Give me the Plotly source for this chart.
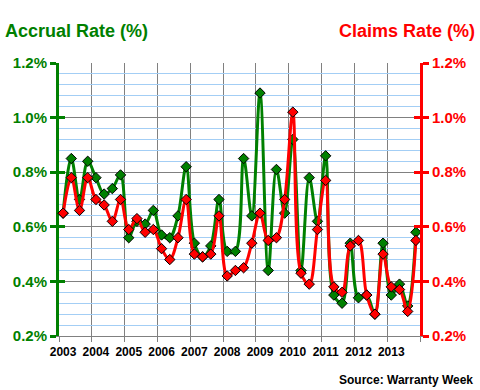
import plotly.graph_objects as go

years = ["2003", "2004", "2005", "2006", "2007", "2008", "2009", "2010", "2011", "2012", "2013"]
quarter_index = list(range(44))

accrual_rate = [0.65, 0.85, 0.70, 0.84,
                0.78, 0.72, 0.74, 0.79,
                0.56, 0.62, 0.61, 0.66,
                0.57, 0.56, 0.64, 0.82,
                0.54, 0.49, 0.53, 0.70,
                0.51, 0.51, 0.85, 0.64,
                1.09, 0.44, 0.81, 0.65,
                0.92, 0.44, 0.78, 0.62,
                0.86, 0.35, 0.32, 0.54,
                0.34, 0.35, 0.28, 0.54,
                0.35, 0.39, 0.31, 0.58]

claims_rate = [0.65, 0.78, 0.66, 0.78,
               0.70, 0.68, 0.62, 0.70,
               0.59, 0.63, 0.58, 0.59,
               0.52, 0.48, 0.56, 0.70,
               0.50, 0.49, 0.50, 0.64,
               0.42, 0.44, 0.45, 0.54,
               0.65, 0.55, 0.56, 0.70,
               1.02, 0.43, 0.39, 0.59,
               0.77, 0.38, 0.36, 0.53,
               0.55, 0.35, 0.28, 0.50,
               0.38, 0.37, 0.29, 0.55]

year_tickvals = [i * 4 for i in range(len(years))]

GREEN = "#008000"
RED = "#FF0000"
FONT = "Liberation Sans"

fig = go.Figure()
fig.add_trace(go.Scatter(
    x=quarter_index, y=claims_rate, yaxis="y2", mode="lines+markers",
    line=dict(color=RED, width=3, shape="spline", smoothing=1.0),
    marker=dict(symbol="diamond", size=8, color=RED, line=dict(color="black", width=1)),
    showlegend=False, cliponaxis=False))
fig.add_trace(go.Scatter(
    x=quarter_index, y=accrual_rate, mode="lines+markers",
    line=dict(color=GREEN, width=3, shape="spline", smoothing=1.0),
    marker=dict(symbol="diamond", size=8, color=GREEN, line=dict(color="black", width=1)),
    showlegend=False, cliponaxis=False))

fig.update_layout(
    width=480, height=390,
    margin=dict(l=59, r=60, t=63, b=54, autoexpand=False),
    paper_bgcolor="white", plot_bgcolor="white",
    font=dict(family=FONT),
    xaxis=dict(
        range=[-0.5, 43.5], tickmode="array", tickvals=year_tickvals, ticktext=years,
        ticks="", showgrid=False, zeroline=False, automargin=False,
        showline=True, linecolor="#808080", linewidth=1,
        ticklabelstandoff=5,
        tickfont=dict(family=FONT, size=12, color="black", weight="bold"),
        minor=dict(tick0=-0.5, dtick=4, showgrid=True, gridcolor="#808080", gridwidth=1,
                   ticks="outside", ticklen=5, tickcolor="#808080", tickwidth=1),
    ),
    yaxis=dict(
        range=[0.2, 1.2], tickmode="linear", tick0=0.2, dtick=0.2,
        tickformat=".1f", ticksuffix="%", automargin=False,
        showgrid=True, gridcolor="#808080", gridwidth=1, zeroline=False,
        showline=True, linecolor=GREEN, linewidth=3,
        ticks="outside", ticklen=6, tickwidth=3, tickcolor=GREEN,
        tickfont=dict(family=FONT, size=15, color=GREEN, weight="bold"),
        minor=dict(tick0=0.2, dtick=0.04, showgrid=True, gridcolor="#A3CEF5", gridwidth=1),
        layer="below traces",
    ),
    yaxis2=dict(
        range=[0.2, 1.2], tickmode="linear", tick0=0.2, dtick=0.2,
        tickformat=".1f", ticksuffix="%", overlaying="y", side="right", automargin=False,
        showgrid=False, zeroline=False,
        showline=True, linecolor=RED, linewidth=3,
        ticks="outside", ticklen=6, tickwidth=3, tickcolor=RED,
        tickfont=dict(family=FONT, size=15, color=RED, weight="bold"),
    ),
    yaxis3=dict(
        range=[0.2, 1.2], tickmode="linear", tick0=0.2, dtick=0.2, overlaying="y", side="left",
        showgrid=False, zeroline=False, showline=False, showticklabels=False, automargin=False,
        ticks="inside", ticklen=6, tickwidth=3, tickcolor=GREEN,
    ),
    yaxis4=dict(
        range=[0.2, 1.2], tickmode="linear", tick0=0.2, dtick=0.2, overlaying="y", side="right",
        showgrid=False, zeroline=False, showline=False, showticklabels=False, automargin=False,
        ticks="inside", ticklen=6, tickwidth=3, tickcolor=RED,
    ),
    annotations=[
        dict(text="<b>Accrual Rate (%)</b>", xref="paper", yref="paper", x=0, y=1,
             xanchor="left", yanchor="middle", xshift=-56, yshift=32,
             showarrow=False, font=dict(family=FONT, size=18, color=GREEN)),
        dict(text="<b>Claims Rate (%)</b>", xref="paper", yref="paper", x=1, y=1,
             xanchor="right", yanchor="middle", xshift=57, yshift=32,
             showarrow=False, font=dict(family=FONT, size=18, color=RED)),
        dict(text="<b>Source: Warranty Week</b>", xref="paper", yref="paper", x=1, y=0,
             xanchor="right", yanchor="middle", xshift=55, yshift=-44,
             showarrow=False, font=dict(family=FONT, size=12, color="black")),
    ],
)

# invisible helper traces so the tick-only overlay axes render
fig.add_trace(go.Scatter(x=[None], y=[None], yaxis="y3", showlegend=False, hoverinfo="skip"))
fig.add_trace(go.Scatter(x=[None], y=[None], yaxis="y4", showlegend=False, hoverinfo="skip"))

fig.write_html("out.html",
               config={"displayModeBar": False},
               post_script="document.body.style.margin='0';document.body.style.padding='0';")
